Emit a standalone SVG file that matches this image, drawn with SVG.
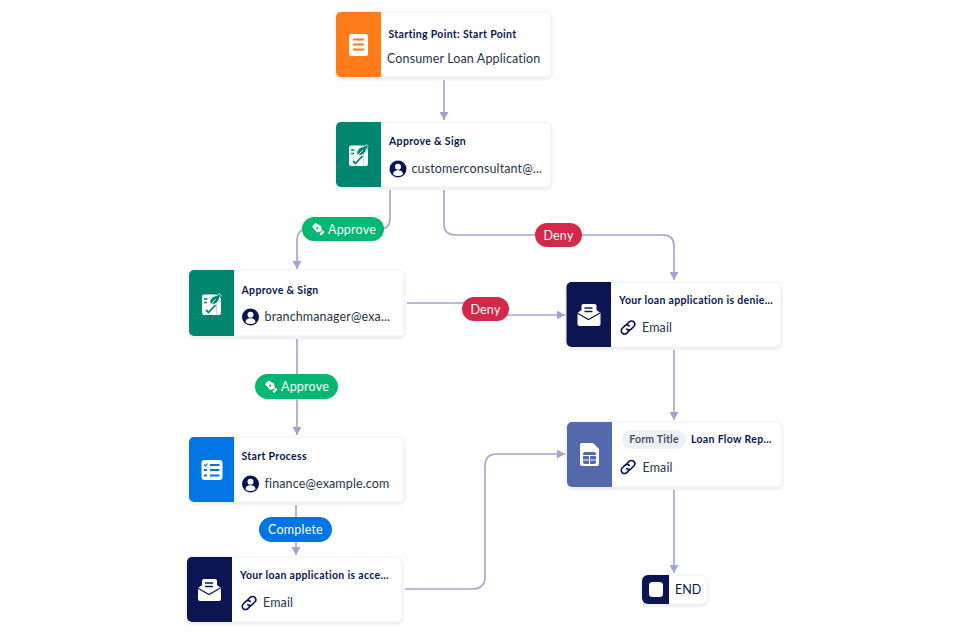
<svg xmlns="http://www.w3.org/2000/svg" width="968" height="633" viewBox="0 0 968 633">
<style>
text{font-family:"Lato","Liberation Sans",sans-serif}
.card{fill:#fff;stroke:#eef0f5;stroke-width:1;filter:url(#sh)}
.t{font-size:10.5px;font-weight:700;fill:#0a1551;letter-spacing:.33px}
.s{font-size:12.5px;fill:#2c3345;letter-spacing:.13px}
.c{fill:none;stroke:#a3a3cf;stroke-width:1.6}
.p{fill:#fff;font-size:12.5px;text-anchor:middle;letter-spacing:.2px}
.g{fill:#00b871}.r{fill:#d3284a}.b{fill:#0075e3}
</style>
<defs>
<filter id="sh" x="-5%" y="-10%" width="110%" height="125%"><feDropShadow dx="0" dy="1.5" stdDeviation="1.5" flood-color="#2c3345" flood-opacity=".12"/></filter>
<marker id="a" markerUnits="userSpaceOnUse" markerWidth="10" markerHeight="9" refX="8" refY="4.500" orient="auto"><path d="M0 0L8 4.500L0 9z" fill="#a3a3cf"/></marker>
<g id="user"><circle r="8.500" fill="#0a1551"/><circle cy="-2.300" r="3" fill="#fff"/><path d="M-5 5.200a5 4 0 0 1 10 0a7.500 7.500 0 0 1-10 0z" fill="#fff"/></g>
<g id="link" fill="none" stroke="#0a1551" stroke-width="1.600" stroke-linecap="round"><path d="M-1.200-3.200l2.400-2.400a3.200 3.200 0 0 1 4.600 4.600l-2.600 2.600a3.200 3.200 0 0 1-4.400 0"/><path d="M1.200 3.200l-2.400 2.400a3.200 3.200 0 0 1-4.600-4.600l2.600-2.600a3.200 3.200 0 0 1 4.400 0"/></g>
<g id="sign"><path d="M-7.500-9.500H5V11H-7.500a2 2 0 0 1-2-2V-7.500a2 2 0 0 1 2-2z" fill="#fff"/><path d="M5-6H9.500V9a2 2 0 0 1-2 2H5z" fill="#fff"/><path d="M-1.500 0C-2.500-5 1-8 5.500-8.500L8-10.500L9.500-8.500L8-6.500C7.500-2 4 1.500-1.500 0z" fill="#00856f" stroke="#fff" stroke-width=".8"/><path d="M-1 .5L4-4.500" stroke="#fff" stroke-width="1"/><path d="M-5.500 6l2.500 2.500 7-7.500" fill="none" stroke="#00856f" stroke-width="1.800"/><path d="M-7.500-5h3.500M-7.500-1.500h3" stroke="#00856f" stroke-width="1.300"/></g>
<g id="mail"><path d="M-7.500-10a2 2 0 0 1 2-2h11a2 2 0 0 1 2 2v4l4 3v11a2 2 0 0 1-2 2h-19a2 2 0 0 1-2-2v-11l4-3z" fill="#fff"/><path d="M-12-3L-.5 3.500L11-3" fill="none" stroke="#0a1551" stroke-width="1.100"/><path d="M-4.500-8h8M-4.500-4.500h8" stroke="#0a1551" stroke-width="1.600"/></g>
<g id="pen"><path d="M-6-2.500L-2.500-6L3-3L4 2L-1 3.500z" fill="#fff"/><path d="M1.500 5L5 1.500L6.500 3L3 6.500z" fill="#fff"/><circle cx="-.800" cy="-.800" r="1.100" class="g"/></g>
</defs>
<rect width="968" height="633" fill="#fff"/>
<g id="connectors">
<path class="c" marker-end="url(#a)" d="M444 80V120"/>
<path class="c" d="M390 190V218Q390 229 380 229H308Q297 229 297 241V269" marker-end="url(#a)"/>
<path class="c" d="M444 190V224Q444 235 456 235H663Q674 235 674 246V280" marker-end="url(#a)"/>
<path class="c" d="M407 303H470Q478 303 478 309V315H565" marker-end="url(#a)"/>
<path class="c" d="M297 339V435" marker-end="url(#a)"/>
<path class="c" d="M296 505V555" marker-end="url(#a)"/>
<path class="c" d="M674 350V420" marker-end="url(#a)"/>
<path class="c" d="M405 589H472Q485 589 485 577V466Q485 454 497 454H565" marker-end="url(#a)"/>
<path class="c" d="M674 490V573" marker-end="url(#a)"/>
</g>
<g id="node-start">
<rect class="card" x="336" y="12" width="215" height="65" rx="5"/>
<path d="M381 12H341a5 5 0 0 0-5 5V72a5 5 0 0 0 5 5H381z" fill="#ff7b1c"/>
<rect x="349" y="34" width="19" height="22" rx="2.500" fill="#fff"/>
<path d="M353 39.500h11M353 44.500h11M353 49.500h11" stroke="#ff7b1c" stroke-width="1.800"/>
<text class="t" x="388.500" y="38">Starting Point: Start Point</text>
<text class="s" x="387" y="63">Consumer Loan Application</text>
</g>
<g id="node-approve1">
<rect class="card" x="336" y="122" width="215" height="65" rx="5"/>
<path d="M381 122H341a5 5 0 0 0-5 5V182a5 5 0 0 0 5 5H381z" fill="#00856f"/>
<use href="#sign" x="358.500" y="155"/>
<text class="t" x="389" y="145">Approve &amp; Sign</text>
<use href="#user" x="398" y="169"/>
<text class="s" x="411.500" y="173">customerconsultant@...</text>
</g>
<g id="node-approve2">
<rect class="card" x="189" y="270" width="215" height="66" rx="5"/>
<path d="M234 270H194a5 5 0 0 0-5 5V331a5 5 0 0 0 5 5H234z" fill="#00856f"/>
<use href="#sign" x="211.500" y="304"/>
<text class="t" x="241.500" y="294">Approve &amp; Sign</text>
<use href="#user" x="250.500" y="317"/>
<text class="s" x="264.500" y="321">branchmanager@exa...</text>
</g>
<g id="node-denied">
<rect class="card" x="566.500" y="282" width="214.500" height="65" rx="5"/>
<path d="M611 282H571.500a5 5 0 0 0-5 5V342a5 5 0 0 0 5 5H611z" fill="#0a1551"/>
<use href="#mail" x="589" y="316"/>
<text class="t" x="619" y="304">Your loan application is denie...</text>
<use href="#link" x="628" y="327.500"/>
<text class="s" x="642" y="332">Email</text>
</g>
<g id="node-report">
<rect class="card" x="567" y="422" width="215" height="65" rx="5"/>
<path d="M612 422H572a5 5 0 0 0-5 5V482a5 5 0 0 0 5 5H612z" fill="#5369ab"/>
<path d="M582 443h11l6 6v15a2 2 0 0 1-2 2h-15a2 2 0 0 1-2-2v-19a2 2 0 0 1 2-2z" fill="#fff"/>
<rect x="583" y="452" width="13" height="12" rx="2" fill="#5369ab"/>
<path d="M583 455.500h13M583 460h13M589.500 455.500v8.500" stroke="#fff" stroke-width="1.100"/>
<rect x="622" y="430" width="64" height="19" rx="9.500" fill="#eef0f5"/>
<text x="654" y="443" text-anchor="middle" style="font-size:10.500px;font-weight:700;fill:#4a4f63;letter-spacing:.2px">Form Title</text>
<text class="t" x="691" y="443">Loan Flow Rep...</text>
<use href="#link" x="628" y="467"/>
<text class="s" x="642.500" y="471.500">Email</text>
</g>
<g id="node-process">
<rect class="card" x="189" y="437" width="215" height="65" rx="5"/>
<path d="M234 437H194a5 5 0 0 0-5 5V497a5 5 0 0 0 5 5H234z" fill="#0075e3"/>
<rect x="201.500" y="460" width="21" height="20" rx="3" fill="#fff"/>
<path d="M204 464.500l1.500 1.500 2-2.500" fill="none" stroke="#0075e3" stroke-width="1.200"/>
<path d="M204 470h3M204 475.500h3M210 465h9.500M210 470h9.500M210 475.500h9.500" stroke="#0075e3" stroke-width="1.800"/>
<text class="t" x="241.500" y="460">Start Process</text>
<use href="#user" x="250.500" y="484"/>
<text class="s" x="264.500" y="488">finance@example.com</text>
</g>
<g id="node-accepted">
<rect class="card" x="187" y="557" width="215" height="65" rx="5"/>
<path d="M232 557H192a5 5 0 0 0-5 5V617a5 5 0 0 0 5 5H232z" fill="#0a1551"/>
<use href="#mail" x="209.500" y="591"/>
<text class="t" x="240" y="579">Your loan application is acce...</text>
<use href="#link" x="249" y="603"/>
<text class="s" x="263" y="607">Email</text>
</g>
<g id="node-end">
<rect class="card" x="642" y="575" width="65" height="29" rx="6"/>
<path d="M669 575H648a6 6 0 0 0-6 6V598a6 6 0 0 0 6 6H669z" fill="#0a1551"/>
<rect x="649" y="582" width="14" height="15" rx="3.500" fill="#fff"/>
<text x="675" y="594" style="font-size:12.500px;fill:#0a1551">END</text>
</g>
<g id="labels">
<rect class="g" x="302" y="217" width="82" height="24" rx="12"/><use href="#pen" x="318" y="229"/><text class="p" x="352" y="234">Approve</text>
<rect class="r" x="535" y="223" width="47" height="24" rx="12"/><text class="p" x="558.500" y="240">Deny</text>
<rect class="r" x="462" y="297" width="47" height="24" rx="12"/><text class="p" x="485.500" y="314">Deny</text>
<rect class="g" x="255" y="374" width="83" height="25" rx="12.500"/><use href="#pen" x="271" y="386.500"/><text class="p" x="305" y="391">Approve</text>
<rect class="b" x="259" y="517" width="73" height="25" rx="12.500"/><text class="p" x="295.500" y="534">Complete</text>
</g>
</svg>
